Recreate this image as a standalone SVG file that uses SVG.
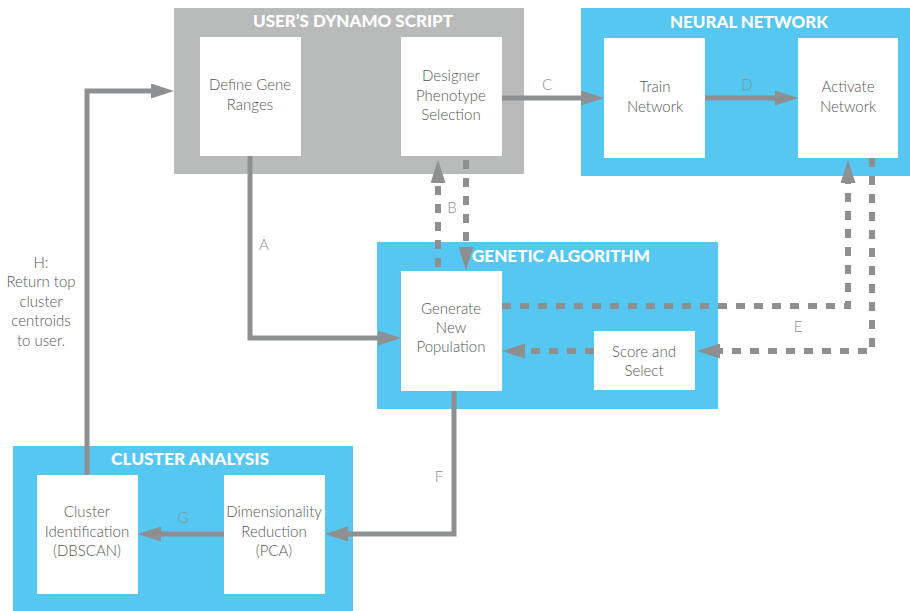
<svg xmlns="http://www.w3.org/2000/svg" width="910" height="611" viewBox="0 0 910 611">
  <style>
    .panel-blue { fill: #56c7f1; }
    .panel-gray { fill: #b9baba; }
    .box { fill: #ffffff; }
    .title { font-family: Lato, "Open Sans", sans-serif; font-weight: 900; font-size: 16px; fill: #ffffff; text-anchor: middle; }
    .label { font-family: Lato, "Open Sans", sans-serif; font-weight: 300; font-size: 15px; fill: #555759; text-anchor: middle; }
    .tag { font-family: Lato, "Open Sans", sans-serif; font-weight: 300; font-size: 15px; fill: #8d8f91; text-anchor: middle; }
    .solid { fill: none; stroke: #8d8f91; stroke-width: 5; marker-end: url(#head); }
    .dashed { fill: none; stroke: #8d8f91; stroke-width: 6; stroke-dasharray: 9 9; marker-end: url(#head); }
  </style>
  <defs>
    <marker id="head" markerUnits="userSpaceOnUse" markerWidth="23" markerHeight="15" refX="0" refY="7.5" orient="auto">
      <path d="M0,0 L23,7.5 L0,15 z" fill="#8d8f91"/>
    </marker>
  </defs>

  <rect width="910" height="611" fill="#ffffff"/>

  <!-- User's Dynamo script panel -->
  <g id="dynamo-script">
    <rect class="panel-gray" x="174" y="8" width="350" height="166"/>
    <text class="title" x="353" y="27" textLength="200" lengthAdjust="spacingAndGlyphs">USER’S DYNAMO SCRIPT</text>
  </g>
  <g id="define-gene-ranges">
    <rect class="box" x="200" y="37" width="101" height="119"/>
    <text class="label" x="250" y="90">Define Gene</text>
    <text class="label" x="250" y="110">Ranges</text>
  </g>
  <g id="designer-phenotype-selection">
    <rect class="box" x="401" y="37" width="101" height="119"/>
    <text class="label" x="451" y="81">Designer</text>
    <text class="label" x="451" y="101">Phenotype</text>
    <text class="label" x="451" y="120">Selection</text>
  </g>

  <!-- Neural network panel -->
  <g id="neural-network">
    <rect class="panel-blue" x="581" y="8" width="329" height="168"/>
    <text class="title" x="749" y="28" textLength="158" lengthAdjust="spacingAndGlyphs">NEURAL NETWORK</text>
  </g>
  <g id="train-network">
    <rect class="box" x="604" y="38" width="101" height="120"/>
    <text class="label" x="655" y="92">Train</text>
    <text class="label" x="655" y="112">Network</text>
  </g>
  <g id="activate-network">
    <rect class="box" x="798" y="38" width="100" height="120"/>
    <text class="label" x="848" y="92">Activate</text>
    <text class="label" x="848" y="112">Network</text>
  </g>

  <!-- Genetic algorithm panel -->
  <g id="genetic-algorithm">
    <rect class="panel-blue" x="377" y="242" width="341" height="167"/>
    <text class="title" x="561" y="262" textLength="178" lengthAdjust="spacingAndGlyphs">GENETIC ALGORITHM</text>
  </g>
  <g id="generate-new-population">
    <rect class="box" x="401" y="271" width="101" height="120"/>
    <text class="label" x="451" y="314">Generate</text>
    <text class="label" x="451" y="333">New</text>
    <text class="label" x="451" y="352">Population</text>
  </g>
  <g id="score-and-select">
    <rect class="box" x="594" y="331" width="101" height="59"/>
    <text class="label" x="644" y="357">Score and</text>
    <text class="label" x="644" y="376">Select</text>
  </g>

  <!-- Cluster analysis panel -->
  <g id="cluster-analysis">
    <rect class="panel-blue" x="13" y="446" width="340" height="165"/>
    <text class="title" x="190" y="465" textLength="158" lengthAdjust="spacingAndGlyphs">CLUSTER ANALYSIS</text>
  </g>
  <g id="cluster-identification">
    <rect class="box" x="37" y="475" width="101" height="119"/>
    <text class="label" x="87" y="517">Cluster</text>
    <text class="label" x="87" y="537">Identification</text>
    <text class="label" x="87" y="556">(DBSCAN)</text>
  </g>
  <g id="dimensionality-reduction">
    <rect class="box" x="224" y="475" width="101" height="119"/>
    <text class="label" x="274" y="517">Dimensionality</text>
    <text class="label" x="274" y="537">Reduction</text>
    <text class="label" x="274" y="556">(PCA)</text>
  </g>

  <!-- Connectors -->
  <g id="connectors">
    <path class="solid" d="M250,156 V338 H378"/>
    <path class="solid" d="M502,98 H581"/>
    <path class="solid" d="M705,98 H775"/>
    <path class="solid" d="M454,391 V534 H348"/>
    <path class="solid" d="M224,534 H161"/>
    <path class="solid" d="M87,475 V91 H151"/>
    <path class="dashed" d="M438,267 V183"/>
    <path class="dashed" d="M466,160 V247"/>
    <path class="dashed" d="M502,306 H848 V183"/>
    <path class="dashed" d="M872,158 V351 H720"/>
    <path class="dashed" d="M594,351 H525"/>
  </g>

  <!-- Connector tags -->
  <g id="tags">
    <text class="tag" x="264" y="250">A</text>
    <text class="tag" x="452" y="213">B</text>
    <text class="tag" x="547" y="90">C</text>
    <text class="tag" x="747" y="90">D</text>
    <text class="tag" x="798" y="332">E</text>
    <text class="tag" x="439" y="482">F</text>
    <text class="tag" x="183" y="523">G</text>
    <text class="label" x="41" y="268">H:</text>
    <text class="label" x="41" y="287">Return top</text>
    <text class="label" x="41" y="307">cluster</text>
    <text class="label" x="41" y="326">centroids</text>
    <text class="label" x="41" y="346">to user.</text>
  </g>
</svg>
